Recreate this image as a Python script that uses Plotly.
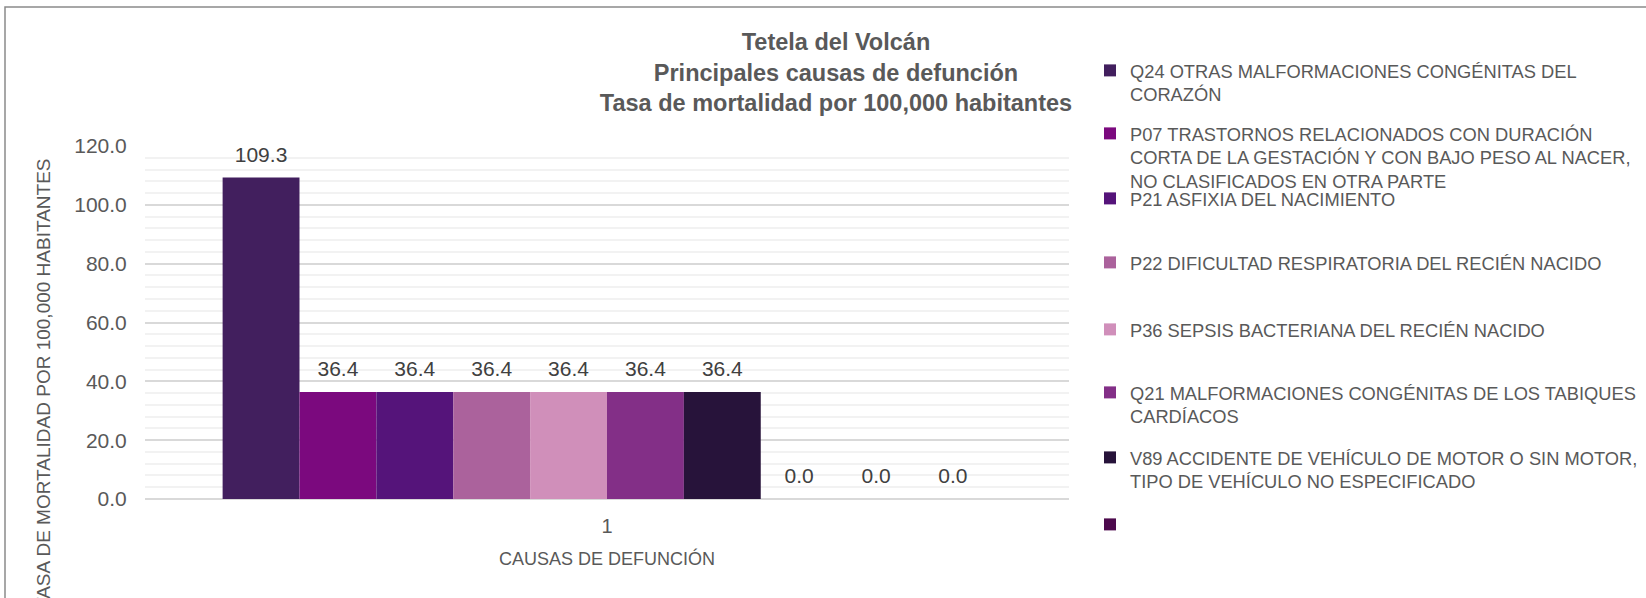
import plotly.graph_objects as go

# ---------------- data ----------------
categoria = ["1"]
causas = [
    "Q24 OTRAS MALFORMACIONES CONGÉNITAS DEL<br>CORAZÓN",
    "P07 TRASTORNOS RELACIONADOS CON DURACIÓN<br>CORTA DE LA GESTACIÓN Y CON BAJO PESO AL NACER,<br>NO CLASIFICADOS EN OTRA PARTE",
    "P21 ASFIXIA DEL NACIMIENTO",
    "P22 DIFICULTAD RESPIRATORIA DEL RECIÉN NACIDO",
    "P36 SEPSIS BACTERIANA DEL RECIÉN NACIDO",
    "Q21 MALFORMACIONES CONGÉNITAS DE LOS TABIQUES<br>CARDÍACOS",
    "V89 ACCIDENTE DE VEHÍCULO DE MOTOR O SIN MOTOR,<br>TIPO DE VEHÍCULO NO ESPECIFICADO",
    " ",
    " ",
    " ",
]
tasas = [109.3, 36.4, 36.4, 36.4, 36.4, 36.4, 36.4, 0.0, 0.0, 0.0]
colores = ["#421F5E", "#7B097E", "#55147A", "#AB629C", "#D08FBA",
           "#832F87", "#27133A", "#4D0A4D", "#6A2A6A", "#93509A"]
en_leyenda = [True, True, True, True, True, True, True, True, False, False]

titulo = ["Tetela del Volcán", "Principales causas de defunción",
          "Tasa de mortalidad por 100,000 habitantes"]
titulo_y = "TASA DE MORTALIDAD POR 100,000 HABITANTES"
titulo_x = "CAUSAS DE DEFUNCIÓN"
y_ticks = [0, 20, 40, 60, 80, 100, 120]

# ---------------- layout geometry (pixels) ----------------
W, H = 1646, 598
L, R, T, B = 145, 1069, 146, 499
PW, PH = R - L, B - T
leyenda_linea1 = [71, 134, 199, 263, 330, 393, 458, 525]   # first-line centres
leyenda_texto_x = 1130

GRIS = "#595959"
FUENTE = "Liberation Sans, Arial, sans-serif"

fig = go.Figure()

for i, (nombre, v, c) in enumerate(zip(causas, tasas, colores)):
    leg = "legend" if i == 0 else f"legend{i + 1}"
    fig.add_trace(go.Bar(
        x=categoria, y=[v], name=nombre, marker_color=c,
        marker_line_width=0, showlegend=en_leyenda[i],
        legend=leg if en_leyenda[i] else "legend",
        hoverinfo="y+name",
    ))

for i, v in enumerate(tasas):
    fig.add_trace(go.Scatter(
        x=categoria, y=[v], mode="markers+text",
        texttemplate="%{y:.1f}", textposition="top center",
        textfont=dict(size=21, color="#404040", family=FUENTE),
        marker=dict(size=15, opacity=0, color="white"),
        showlegend=False, hoverinfo="skip", cliponaxis=False,
    ))

legends = {}
for i, yc in enumerate(leyenda_linea1):
    key = "legend" if i == 0 else f"legend{i + 1}"
    top = yc - 19
    legends[key] = dict(
        x=(leyenda_texto_x - 40 - L) / PW, xanchor="left",
        y=(B - top) / PH, yanchor="top",
        valign="top", bgcolor="rgba(0,0,0,0)", borderwidth=0,
        font=dict(size=18.3, color=GRIS, family=FUENTE),
    )

fig.update_layout(
    width=W, height=H,
    margin=dict(l=L, r=W - R, t=T, b=H - B, pad=0, autoexpand=False),
    paper_bgcolor="white", plot_bgcolor="white",
    font=dict(family=FUENTE, color=GRIS),
    barmode="group", bargap=0.168, bargroupgap=0,
    scattermode="group", scattergap=0.168,
    title=dict(
        text="<br>".join(f"<b>{t}</b>" for t in titulo),
        x=836 / W, xanchor="center", y=1 - 50 / H, yanchor="middle",
        font=dict(size=23.5, color=GRIS, family=FUENTE),
    ),
    xaxis=dict(
        type="category", showgrid=False, zeroline=False, showline=False,
        ticks="outside", ticklen=9, tickcolor="rgba(0,0,0,0)",
        tickfont=dict(size=20, color=GRIS),
        title=dict(text=titulo_x, standoff=16, font=dict(size=18, color=GRIS)),
    ),
    yaxis=dict(
        range=[0, 120], tickvals=y_ticks, tickformat=".1f",
        showgrid=True, gridcolor="#D9D9D9", gridwidth=1.5,
        zeroline=True, zerolinecolor="#D9D9D9", zerolinewidth=1.5,
        showline=False,
        ticks="outside", ticklen=13, tickcolor="rgba(0,0,0,0)",
        tickfont=dict(size=21, color=GRIS),
        minor=dict(dtick=4, showgrid=True, gridcolor="#F2F2F2", gridwidth=1.5),
    ),
    annotations=[dict(
        text=titulo_y, textangle=-90, showarrow=False,
        xref="paper", yref="paper",
        x=(43 - L) / PW, y=(B - 384) / PH, xanchor="center", yanchor="middle",
        font=dict(size=19, color=GRIS, family=FUENTE),
    )],
    shapes=[dict(
        type="rect", xref="paper", yref="paper",
        x0=(5 - L) / PW, x1=(W + 40 - L) / PW,
        y0=(B - H - 40) / PH, y1=(B - 7) / PH,
        line=dict(color="#8A8A8A", width=1.5), fillcolor="rgba(0,0,0,0)",
    )],
    **legends,
)

fig.write_html(
    "out.html",
    config={"displayModeBar": False},
    post_script="document.body.style.margin='0px';document.body.style.overflow='hidden';",
)
